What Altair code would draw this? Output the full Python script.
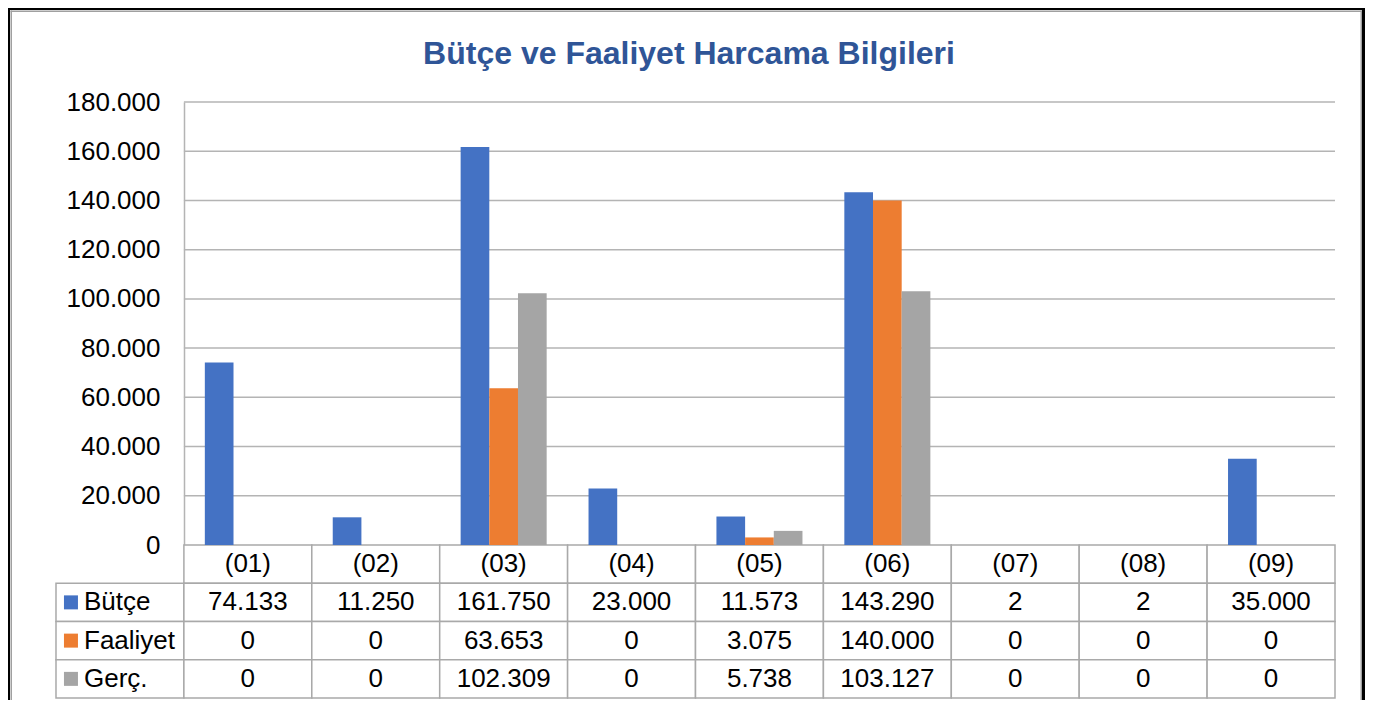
import altair as alt
import pandas as pd

# ---- data ----
categories = ["(01)", "(02)", "(03)", "(04)", "(05)", "(06)", "(07)", "(08)", "(09)"]
series = ["Bütçe", "Faaliyet", "Gerç."]
butce = [74133, 11250, 161750, 23000, 11573, 143290, 2, 2, 35000]
faaliyet = [0, 0, 63653, 0, 3075, 140000, 0, 0, 0]
gerc = [0, 0, 102309, 0, 5738, 103127, 0, 0, 0]
y_ticks = [0, 20000, 40000, 60000, 80000, 100000, 120000, 140000, 160000, 180000]
colors = ["#4472C4", "#ED7D31", "#A5A5A5"]
title_text = "Bütçe ve Faaliyet Harcama Bilgileri"

LBL = "lbl"
cols = [LBL] + categories
rows = ["hdr"] + series
values = {"Bütçe": butce, "Faaliyet": faaliyet, "Gerç.": gerc}

long_df = pd.DataFrame(
    [{"cat": c, "series": s, "value": values[s][i]}
     for s in series for i, c in enumerate(categories)]
)
cells_df = pd.DataFrame(
    [{"col": c, "row": "hdr"} for c in categories]
    + [{"col": c, "row": s} for s in series for c in cols]
)
header_df = pd.DataFrame({"cat": categories, "row": ["hdr"] * len(categories)})
labels_df = pd.DataFrame({"col": [LBL] * len(series), "series": series})
grid_df = pd.DataFrame({"v": y_ticks[1:], "a": categories[0], "b": categories[-1]})
dummy = pd.DataFrame({"d": [0]})
title_df = pd.DataFrame({"t": [title_text]})

FONT = "Liberation Sans"
GRID = "#b4b4b4"
TABLE = "#a9a9a9"

W, H = 1357, 692

xscale = alt.Scale(domain=cols, range=[48, 1327], paddingInner=0, paddingOuter=0)
yscale = alt.Scale(domain=[0, 180000], range=[537, 94], nice=False, zero=True)
rowscale = alt.Scale(domain=rows, range=[537, 690], paddingInner=0, paddingOuter=0)
colscale = alt.Scale(domain=series, range=colors)

# ---- frame ----
frame = [
    alt.Chart(dummy).mark_rule(color="black", strokeWidth=2).encode(
        x=alt.value(1), y=alt.value(0), y2=alt.value(H)),
    alt.Chart(dummy).mark_rule(color="black", strokeWidth=2).encode(
        y=alt.value(1), x=alt.value(0), x2=alt.value(W)),
    alt.Chart(dummy).mark_rule(color="black", strokeWidth=3).encode(
        x=alt.value(W - 1.5), y=alt.value(0), y2=alt.value(H)),
    alt.Chart(dummy).mark_rule(color="#a0a0a0", strokeWidth=1.5).encode(
        x=alt.value(3.25), y=alt.value(2.5), y2=alt.value(H)),
    alt.Chart(dummy).mark_rule(color="#a0a0a0", strokeWidth=1.5).encode(
        y=alt.value(3.25), x=alt.value(2.5), x2=alt.value(W - 3)),
    alt.Chart(dummy).mark_rule(color="#a0a0a0", strokeWidth=1.5).encode(
        x=alt.value(W - 3.75), y=alt.value(2.5), y2=alt.value(H)),
]

# ---- title ----
title = alt.Chart(title_df).mark_text(
    font=FONT, fontSize=32, fontWeight="bold", color="#2F5597",
    align="center", baseline="alphabetic"
).encode(x=alt.value(681), y=alt.value(56), text="t:N")

# ---- gridlines ----
grid = alt.Chart(grid_df).mark_rule(color=GRID, strokeWidth=1.5).encode(
    x=alt.X("a:N", scale=xscale, bandPosition=0, axis=None),
    x2=alt.X2("b", bandPosition=1),
    y=alt.Y("v:Q", scale=yscale, axis=None),
)

# ---- bars ----
bars = alt.Chart(long_df).mark_bar().encode(
    x=alt.X("cat:N", scale=xscale, axis=None),
    xOffset=alt.XOffset("series:N", scale=alt.Scale(domain=series, paddingInner=0, paddingOuter=0.73)),
    y=alt.Y("value:Q", scale=yscale,
            axis=alt.Axis(values=y_ticks, format=",.0f", offset=-176, orient="left",
                          grid=False, ticks=False, domainColor=GRID, domainWidth=1.5,
                          labelFontSize=26, labelFont=FONT, labelColor="black",
                          labelPadding=24, title=None)),
    color=alt.Color("series:N", scale=colscale, legend=None),
)

# ---- table ----
cells = alt.Chart(cells_df).mark_rect(fill="white", stroke=TABLE, strokeWidth=1.5).encode(
    x=alt.X("col:N", scale=xscale, axis=None),
    y=alt.Y("row:N", scale=rowscale, axis=None),
)
header = alt.Chart(header_df).mark_text(
    font=FONT, fontSize=26, color="black", align="center", baseline="middle"
).encode(
    x=alt.X("cat:N", scale=xscale, axis=None),
    y=alt.Y("row:N", scale=rowscale, axis=None),
    text="cat:N",
)
vals = alt.Chart(long_df).mark_text(
    font=FONT, fontSize=26, color="black", align="center", baseline="middle"
).encode(
    x=alt.X("cat:N", scale=xscale, axis=None),
    y=alt.Y("series:N", scale=rowscale, axis=None),
    text=alt.Text("value:Q", format=","),
)
lab_text = alt.Chart(labels_df).mark_text(
    font=FONT, fontSize=26, color="black", align="left", baseline="middle"
).encode(
    x=alt.X("col:N", scale=xscale, bandPosition=0.219, axis=None),
    y=alt.Y("series:N", scale=rowscale, axis=None),
    text="series:N",
)
squares = alt.Chart(labels_df).mark_square(size=196, opacity=1).encode(
    x=alt.X("col:N", scale=xscale, bandPosition=0.117, axis=None),
    y=alt.Y("series:N", scale=rowscale, axis=None),
    color=alt.Color("series:N", scale=colscale, legend=None),
)

chart = alt.layer(
    *frame, title, grid, cells, bars, header, vals, lab_text, squares
).resolve_scale(y="independent").properties(
    width=W, height=H,
    autosize=alt.AutoSizeParams(type="none"),
    padding=0,
).configure(
    locale={"number": {"decimal": ",", "thousands": ".", "grouping": [3], "currency": ["", ""]}}
).configure_view(stroke="transparent")

chart.save("out.html", embed_options={"renderer": "svg", "actions": False})
